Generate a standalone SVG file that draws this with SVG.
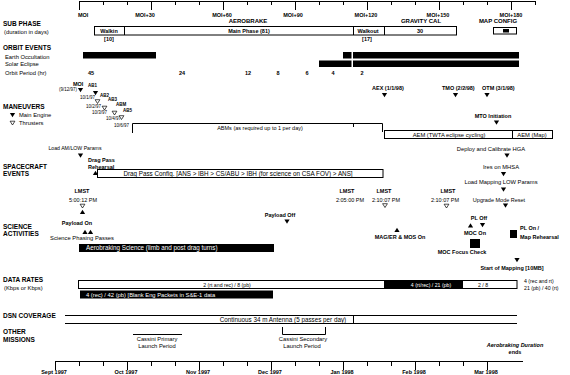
<svg xmlns="http://www.w3.org/2000/svg" width="570" height="375" viewBox="0 0 570 375">
<style>
text{font-family:"Liberation Sans",Arial,sans-serif;font-size:5.8px;fill:#000}
.b{font-weight:bold;font-size:5.5px}
.h{font-weight:bold;font-size:6.5px}
.m{text-anchor:middle}
.w{fill:#fff}
.s{font-size:4.5px}
.L{font-size:6.3px}
.d{font-size:5.2px}
.i{font-style:italic;font-weight:bold;font-size:5.5px}
.ln{stroke:#000;stroke-width:1;fill:none}
.bx{stroke:#000;stroke-width:1;fill:#fff}
.blk{fill:#000}
</style>
<defs>
<path id="dn" d="M-2.6,-2 L2.6,-2 L0,2.2 Z" fill="#000"/>
<path id="dnw" d="M-2.4,-1.8 L2.4,-1.8 L0,2 Z" fill="#fff" stroke="#000" stroke-width="0.7"/>
<path id="up" d="M-2.6,2 L2.6,2 L0,-2.2 Z" fill="#000"/>
</defs>
<rect width="570" height="375" fill="#fff"/>

<g id="top-axis">
<path class="ln" d="M79,1.5H535 M79.5,1V10 M103.5,1V5 M127.5,1V5 M151.5,1V10 M175.5,1V5 M199.5,1V5 M223.5,1V10 M247.5,1V5 M271.5,1V5 M295.5,1V10 M319.5,1V5 M343.5,1V5 M367.5,1V10 M391.5,1V5 M415.5,1V5 M439.5,1V10 M463.5,1V5 M487.5,1V5 M511.5,1V10 M535.5,1V5"/>
<text class="b" x="78" y="17">MOI</text>
<text class="b m" x="145" y="17">MOI+30</text>
<text class="b m" x="222" y="17">MOI+60</text>
<text class="b m" x="293" y="17">MOI+90</text>
<text class="b m" x="366" y="17">MOI+120</text>
<text class="b m" x="438" y="17">MOI+150</text>
<text class="b m" x="511" y="17">MOI+180</text>
</g>

<g id="labels">
<text class="h" x="3" y="26">SUB PHASE</text>
<text x="4" y="34">(duration in days)</text>
<text class="h" x="3" y="50">ORBIT EVENTS</text>
<text x="5" y="59">Earth Occultation</text>
<text x="5" y="66">Solar Eclipse</text>
<text x="5" y="75">Orbit Period (hr)</text>
<text class="h" x="3" y="109">MANEUVERS</text>
<use href="#dn" x="12.5" y="115"/>
<text x="19" y="117">Main Engine</text>
<use href="#dnw" x="12.5" y="123"/>
<text x="19" y="125">Thrusters</text>
<text class="h" x="3" y="169">SPACECRAFT</text>
<text class="h" x="3" y="176">EVENTS</text>
<text class="h" x="3" y="229">SCIENCE</text>
<text class="h" x="3" y="236">ACTIVITIES</text>
<text class="h" x="3" y="282">DATA RATES</text>
<text x="4" y="290">(Kbps or Kbps)</text>
<text class="h" x="3" y="318">DSN COVERAGE</text>
<text class="h" x="3" y="334">OTHER</text>
<text class="h" x="3" y="342">MISSIONS</text>
</g>

<g id="subphase">
<text class="b m" x="248" y="23" style="font-size:6px">AEROBRAKE</text>
<text class="b m" x="421" y="23" style="font-size:6px">GRAVITY CAL</text>
<text class="b m" x="498" y="23" style="font-size:6px">MAP CONFIG</text>
<rect class="bx" x="94.5" y="26.5" width="362" height="8.5"/>
<path class="ln" d="M124.5,26.5V35 M353.5,26.5V35 M384.5,26.5V35"/>
<text class="b m" x="109" y="33">Walkin</text>
<text class="b m" x="109" y="41">[10]</text>
<text class="b m" x="249" y="33">Main Phase (81)</text>
<text class="b m" x="368" y="33">Walkout</text>
<text class="b m" x="367" y="41">[17]</text>
<text class="b m" x="420" y="33">30</text>
<rect class="bx" x="493.5" y="27.5" width="23" height="6.5"/>
<rect class="blk" x="503" y="29" width="6" height="3.5"/>
</g>

<g id="orbit-events">
<rect class="blk" x="83" y="52" width="73" height="6.5"/>
<rect class="blk" x="343" y="52" width="8.5" height="6.5"/>
<rect class="blk" x="353" y="52" width="166" height="6.5"/>
<rect class="blk" x="319" y="60.5" width="32.5" height="6.5"/>
<rect class="blk" x="353" y="60.5" width="166" height="6.5"/>
<text class="b m" x="91" y="75">45</text>
<text class="b m" x="182" y="75">24</text>
<text class="b m" x="248" y="75">12</text>
<text class="b m" x="278" y="75">8</text>
<text class="b m" x="307" y="75">6</text>
<text class="b m" x="333" y="75">4</text>
<text class="b m" x="362" y="75">2</text>
</g>

<g id="maneuvers">
<text class="b" x="73" y="86">MOI</text>
<text class="s" x="59" y="91">(9/12/97)</text>
<use href="#dn" x="80.5" y="90"/>
<text class="b s" x="88" y="87">AB1</text>
<use href="#dn" x="95.5" y="93"/>
<text class="s" x="80" y="99">10/1/97</text>
<text class="b s" x="100" y="97">AB2</text>
<use href="#dnw" x="97.5" y="101.5"/>
<text class="b s" x="108" y="101">AB3</text>
<text class="s" x="86" y="108">10/2/97</text>
<use href="#dnw" x="104.5" y="108"/>
<text class="b s" x="116" y="106">ABM</text>
<text class="s" x="92" y="114">10/3/97</text>
<use href="#dnw" x="114.5" y="113"/>
<text class="b s" x="123" y="112">AB5</text>
<text class="s" x="106" y="120">10/4/97</text>
<use href="#dnw" x="121.5" y="117.5"/>
<text class="s" x="114" y="127">10/6/97</text>
<path class="ln" d="M132.5,133V123.5H382.5V132 M353.5,123.5V127"/>
<text class="m" x="260" y="130" style="font-size:5.5px">ABMs (as required up to 1 per day)</text>
<text class="b" x="372" y="90">AEX (1/1/98)</text>
<use href="#dn" x="384.5" y="95"/>
<text class="b" x="442" y="90">TMO (2/2/98)</text>
<use href="#dn" x="455.5" y="95"/>
<text class="b" x="482" y="90">OTM (3/1/98)</text>
<use href="#dn" x="487" y="95"/>
<text class="b m" x="493" y="118">MTO Initiation</text>
<use href="#dn" x="496.5" y="122.5"/>
<rect class="bx" x="384.5" y="130.5" width="168" height="8"/>
<path class="ln" d="M512.5,130.5V138.5"/>
<text class="m" x="449" y="137">AEM (TWTA eclipse cycling)</text>
<text class="m" x="532" y="137">AEM (Map)</text>
</g>

<g id="spacecraft-events">
<text class="m" x="75" y="150" style="font-size:5.2px">Load AM/LOW Params</text>
<use href="#dn" x="80.5" y="155.5"/>
<text class="b" x="88" y="162">Drag Pass</text>
<text class="b" x="88" y="169">Rehearsal</text>
<use href="#up" x="95.5" y="173"/>
<rect class="bx" x="97.5" y="169.5" width="285.5" height="8"/>
<text class="m L" x="238" y="176">Drag Pass Config. [ANS &gt; IBH &gt; CS/ABU &gt; IBH (for science on CSA FOV) &gt; ANS]</text>
<text class="m" x="491" y="151">Deploy and Calibrate HGA</text>
<use href="#dn" x="507" y="155.5"/>
<text class="m" x="501" y="169">Ires on MHSA</text>
<use href="#dn" x="503.5" y="174"/>
<text class="m" x="501" y="184">Load Mapping LOW Params</text>
<use href="#dn" x="503.5" y="189.5"/>
<text class="b m" x="448" y="193">LMST</text>
<text class="m" x="445" y="202" style="font-size:5.5px">2:10:07 PM</text>
<use href="#dnw" x="446.5" y="206"/>
<text class="m" x="499" y="202" style="font-size:5.5px">Upgrade Mode Reset</text>
<use href="#dn" x="505.5" y="205.5"/>
</g>

<g id="science">
<text class="b m" x="82" y="193">LMST</text>
<text class="m" x="83" y="202" style="font-size:5.5px">5:00:12 PM</text>
<use href="#dnw" x="82.5" y="206"/>
<use href="#up" x="82.5" y="212"/>
<text class="b m" x="77" y="225">Payload On</text>
<use href="#up" x="85" y="232"/>
<use href="#up" x="90.5" y="232"/>
<text class="m" x="82" y="240">Science Phasing Passes</text>
<rect class="blk" x="79" y="244" width="195" height="8"/>
<text class="w L" x="86" y="250.2">Aerobraking Science (limb and post drag turns)</text>
<text class="b m" x="280" y="217">Payload Off</text>
<use href="#dn" x="287" y="221.5"/>
<text class="b m" x="347" y="193">LMST</text>
<text class="m" x="350" y="202" style="font-size:5.5px">2:05:00 PM</text>
<text class="b m" x="384" y="193">LMST</text>
<text class="m" x="386" y="202" style="font-size:5.5px">2:10:07 PM</text>
<use href="#dnw" x="385" y="205.5"/>
<use href="#up" x="397" y="230"/>
<text class="b m" x="400" y="239">MAG/ER &amp; MOS On</text>
<text class="b m" x="479" y="220">PL Off</text>
<use href="#dn" x="482.5" y="225"/>
<use href="#up" x="470.5" y="225.5"/>
<text class="b m" x="475" y="235">MOC On</text>
<rect class="blk" x="470" y="239" width="10" height="9"/>
<rect class="blk" x="510" y="230" width="7" height="8"/>
<text class="b" x="520" y="230">PL On /</text>
<text class="b" x="520" y="239">Map Rehearsal</text>
<text class="b m" x="462" y="254">MOC Focus Check</text>
<use href="#dn" x="517" y="260"/>
<text class="b m" x="512" y="270">Start of Mapping [10MB]</text>
</g>

<g id="data-rates">
<rect class="bx" x="78.5" y="280.5" width="438.5" height="8"/>
<rect class="blk" x="384" y="280.5" width="79" height="8"/>
<text class="m d" x="227" y="286.8">2 (rt and rec) / 8 (pb)</text>
<text class="w m d" x="431" y="286.8">4 (rt/rec) / 21 (pb)</text>
<text class="m d" x="483" y="286.8">2 / 8</text>
<text class="d" x="524" y="283">4 (rec and rt)</text>
<text class="d" x="524" y="290">21 (pb) / 40 (rt)</text>
<rect class="blk" x="80" y="290.5" width="193" height="8"/>
<text class="w" x="86" y="296.8">4 (rec) / 42 (pb) [Blank Eng Packets in S&amp;E-1 data</text>
</g>

<g id="dsn">
<path class="ln" d="M65,315.5H517 M65,323.5H517 M353.5,315.5V323.5"/>
<text class="m L" x="283" y="321.5">Continuous 34 m Antenna (5 passes per day)</text>
</g>

<g id="other-missions">
<path class="ln" d="M133,334.5H182"/>
<text class="m" x="157" y="341">Cassini Primary</text>
<text class="m" x="157" y="348">Launch Period</text>
<path class="ln" d="M282.5,327V334.5H325.5V327"/>
<text class="m" x="303" y="341">Cassini Secondary</text>
<text class="m" x="302" y="348">Launch Period</text>
<text class="i m" x="515" y="347">Aerobraking Duration</text>
<text class="b m" x="515" y="354">ends</text>
</g>

<g id="connectors">
<path class="ln" d="M55,361.5H523 M55.5,361V370 M79.5,361V366 M103.5,361V366 M127.5,361V370 M151.5,361V366 M175.5,361V366 M199.5,361V370 M223.5,361V366 M247.5,361V366 M271.5,361V370 M295.5,361V366 M319.5,361V366 M343.5,361V370 M367.5,361V366 M391.5,361V366 M415.5,361V370 M439.5,361V366 M463.5,361V366 M487.5,361V370"/>
<text class="b m" x="54" y="374">Sept 1997</text>
<text class="b m" x="126" y="374">Oct 1997</text>
<text class="b m" x="198" y="374">Nov 1997</text>
<text class="b m" x="270" y="374">Dec 1997</text>
<text class="b m" x="342" y="374">Jan 1998</text>
<text class="b m" x="414" y="374">Feb 1998</text>
<text class="b m" x="486" y="374">Mar 1998</text>
</g>
</svg>
